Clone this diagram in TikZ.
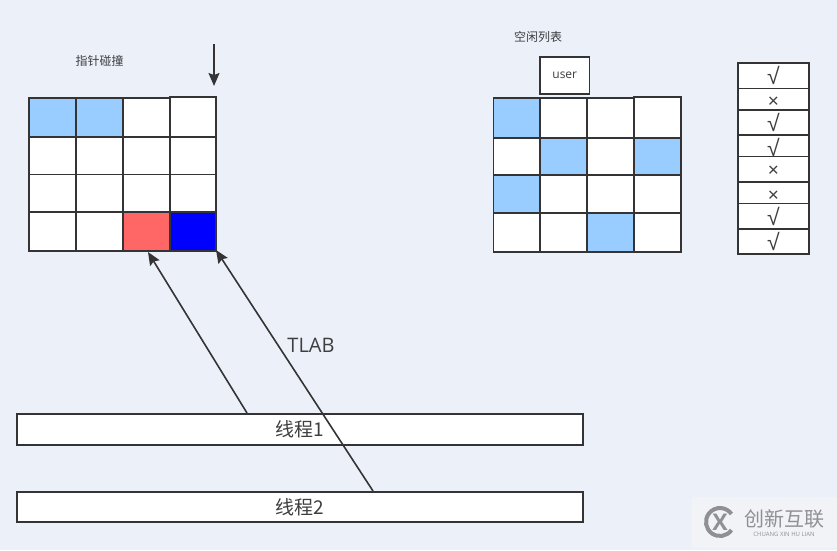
\documentclass[tikz,border=0pt]{standalone}
\usepackage{xcolor}
\usepackage{fontspec}
\setmainfont{Open Sans}
\newfontfamily\cjk{Noto Sans CJK SC}
\newfontfamily\signs{Liberation Sans}
\usetikzlibrary{arrows.meta,positioning,calc}
\definecolor{vback}{HTML}{ECF1F9}
\definecolor{vline}{HTML}{343436}
\definecolor{vblue}{HTML}{99CCFF}
\definecolor{vred}{HTML}{FF6666}
\definecolor{vdeep}{HTML}{0000FF}
\definecolor{vtext}{HTML}{3E3E40}
\definecolor{vmark}{HTML}{8E9092}
\definecolor{vwash}{HTML}{F1F3F7}

\begin{document}
\begin{tikzpicture}[
  x=1pt,y=-1pt,
  font=\cjk,
  box/.style={draw=vline,fill=white,line width=1.6pt,inner sep=0pt,outer sep=0pt,anchor=north west,text=vtext},
  tag/.style={text=vtext,inner sep=0pt,font=\cjk\fontsize{12}{12}\selectfont},
  big/.style={text=vtext,inner sep=0pt,font=\fontspec{Open Sans}\fontsize{20}{20}\selectfont},
  sign/.style={box,minimum width=71pt,font=\signs\fontsize{23}{23}\selectfont},
  cross/.style={sign,font=\signs\fontsize{19}{19}\selectfont},
  arr/.style={-{Stealth[length=13pt,width=11pt,inset=2pt]},draw=vline,line width=1.6pt}]

  \fill[vback] (0,0) rectangle (837,550);
  \useasboundingbox (0,0) rectangle (837,550);

  % left grid
  \foreach \r/\y/\h in {1/98/39,2/137/37.5,3/174.5/37.5,4/212/39}
    \foreach \c/\x/\w in {1/29/47,2/76/47,3/123/47,4/170/46}
      \node[box,minimum width=\w pt,minimum height=\h pt] (a\r\c) at (\x,\y) {};
  \node[box,minimum width=46pt,minimum height=40pt] (a14t) at (170,97) {};
  \node[box,fill=vblue,minimum width=47pt,minimum height=39pt] (a11f) at (a11.north west) {};
  \node[box,fill=vblue,minimum width=47pt,minimum height=39pt] (a12f) at (a12.north west) {};
  \node[box,fill=vred,minimum width=47pt,minimum height=39pt] (a43f) at (a43.north west) {};
  \node[box,fill=vdeep,minimum width=46pt,minimum height=38.5pt] (a44f) at (170,212.5) {};
  \node[tag] (ptr) at (99.5,60.5) {指针碰撞};
  \coordinate (top) at (214,44);
  \draw[arr] (top) -- (top |- 0,86);

  % right grid
  \foreach \r/\y/\h in {1/98/40,2/138/37,3/175/38,4/213/39}
    \foreach \c/\x/\w in {1/493.5/46.5,2/540/47,3/587/47,4/634/47}
      \node[box,minimum width=\w pt,minimum height=\h pt] (b\r\c) at (\x,\y) {};
  \node[box,minimum width=47pt,minimum height=41pt] (b14t) at (634,97) {};
  \node[box,fill=vblue,minimum width=46.5pt,minimum height=40pt] (b11f) at (b11.north west) {};
  \node[box,fill=vblue,minimum width=47pt,minimum height=37pt] (b22f) at (b22.north west) {};
  \node[box,fill=vblue,minimum width=47pt,minimum height=37pt] (b24f) at (b24.north west) {};
  \node[box,fill=vblue,minimum width=46.5pt,minimum height=38pt] (b31f) at (b31.north west) {};
  \node[box,fill=vblue,minimum width=47pt,minimum height=39pt] (b43f) at (b43.north west) {};
  \node[tag] (free) at (538,36.5) {空闲列表};
  \node[box,minimum width=49.5pt,minimum height=37pt,font=\fontspec{Open Sans}\fontsize{12}{12}\selectfont] (user) at (540,57) {user};

  % list
  \foreach \i/\y/\h/\t/\s/\k in {1/63/25.5/√/0/sign,2/88.5/21.5/×/-3/cross,3/110/25/√/0/sign,4/135/21.5/√/-2/sign,5/156.5/25.5/×/-2/cross,6/182/21.5/×/-3.5/cross,7/203.5/25.5/√/0/sign,8/229/25/√/0/sign}
    \node[\k,minimum height=\h pt] (l\i) at (738,\y) {\raisebox{\s pt}[\height][\depth]{\t}};

  % threads
  \node[box,minimum width=566pt,minimum height=31pt,font=\cjk\fontsize{19}{19}\selectfont] (t1) at (17,414) {线程1};
  \node[box,minimum width=566pt,minimum height=30pt,font=\cjk\fontsize{19}{19}\selectfont] (t2) at (17,492) {线程2};
  \coordinate (s1) at (247,413);
  \coordinate (s2) at (373,491);
  \draw[arr] (s1) -- ($(a43f.south)+(1.5,1)$);
  \draw[arr] (s2) -- ($(a44f.south east)+(0,-1)$);
  \node[big] (tlab) at (311,345.5) {TLAB};

  % mark
  \node[fill=vwash,minimum width=145pt,minimum height=51pt,inner sep=0pt,anchor=north west] (wm) at (692,497) {};
  \node[inner sep=0pt,font=\fontspec{Open Sans}\bfseries\fontsize{23}{23}\selectfont,text=vmark] (logo) at (720,522) {X};
  \draw[vmark,line width=4pt] ($(logo)+(35:14)$) arc (35:325:14);
  \node[inner sep=0pt,text=vmark,font=\cjk\fontsize{20}{20}\selectfont] (wmt) at (784,519) {创新互联};
  \node[inner sep=0pt,text=vmark,below=3pt of wmt,font=\fontspec{Open Sans}\fontsize{6}{6}\selectfont] (wms) {CHUANG XIN HU LIAN};
\end{tikzpicture}
\end{document}
